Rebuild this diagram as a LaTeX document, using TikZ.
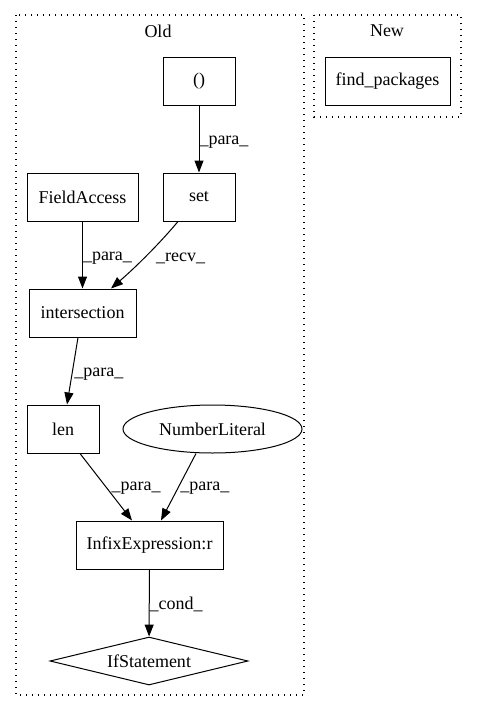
\documentclass[tikz,border=0pt]{standalone}
\usepackage{fontspec}
\setmainfont{Liberation Serif}
\usetikzlibrary{shapes.geometric,arrows.meta,calc}
\begin{document}
\begin{tikzpicture}[x=1pt,y=-1pt,
  every node/.style={font=\fontsize{18}{20}\selectfont},
  box/.style={draw,line width=1pt,rectangle,inner sep=0pt},
  oval/.style={draw,line width=1pt,ellipse,inner sep=0pt},
  dia/.style={draw,line width=1pt,diamond,inner sep=0pt},
  cluster/.style={draw,line width=1.2pt,dash pattern=on 1.3pt off 4.7pt},
  edge/.style={line width=1pt,-{Triangle[length=12pt,width=9pt]}},
  elab/.style={anchor=west,inner sep=0pt}]
\useasboundingbox (0,0) rectangle (477,712);
\draw[cluster] (16,15) rectangle (304,695);
\draw[cluster] (314,15) rectangle (461,117);
\node (oldlab) at (158,31) {Old};
\node (newlab) at (387,31) {New};
\node[box,minimum width=72pt,minimum height=48pt] (paren) at (199,81) {()};
\node[box,minimum width=125pt,minimum height=48pt] (find) at (387.5,81) {find\_packages};
\node[box,minimum width=111pt,minimum height=48pt] (field) at (82.5,197) {FieldAccess};
\node[box,minimum width=72pt,minimum height=48pt] (set) at (199,197) {set};
\node[box,minimum width=107pt,minimum height=48pt] (inter) at (82.5,313) {intersection};
\node[box,minimum width=72pt,minimum height=48pt] (len) at (63,429) {len};
\node[oval,minimum width=179pt,minimum height=48pt] (num) at (212.5,429) {NumberLiteral};
\node[box,minimum width=147pt,minimum height=48pt] (infix) at (149.5,545) {InfixExpression:r};
\node[dia,minimum width=198pt,minimum height=48pt,aspect=4.1] (ifs) at (149,661) {IfStatement};
\draw[edge] (paren) -- (set) node[elab,pos=0.55] {\_para\_};
\draw[edge] (field) -- (inter) node[elab,pos=0.55] {\_para\_};
\draw[edge] ($(set.south)+(-21,0)$) .. controls (160,243) and (137,266) .. ($(inter.north)+(28.5,0)$);
\node[elab] (recvlab) at (156,258) {\_recv\_};
\draw[edge] ($(inter.south)+(-4.5,0)$) -- ($(len.north)+(4,0)$) node[elab,pos=0.55,xshift=2pt] {\_para\_};
\draw[edge] ($(len.south)+(17,0)$) -- ($(infix.north)+(-17.5,0)$) node[elab,pos=0.52,xshift=4pt] {\_para\_};
\draw[edge] ($(num.south)+(-16.5,0)$) -- ($(infix.north)+(11.5,0)$) node[elab,pos=0.52,xshift=2pt] {\_para\_};
\draw[edge] (infix) -- (ifs) node[elab,pos=0.52] {\_cond\_};
\end{tikzpicture}
\end{document}
